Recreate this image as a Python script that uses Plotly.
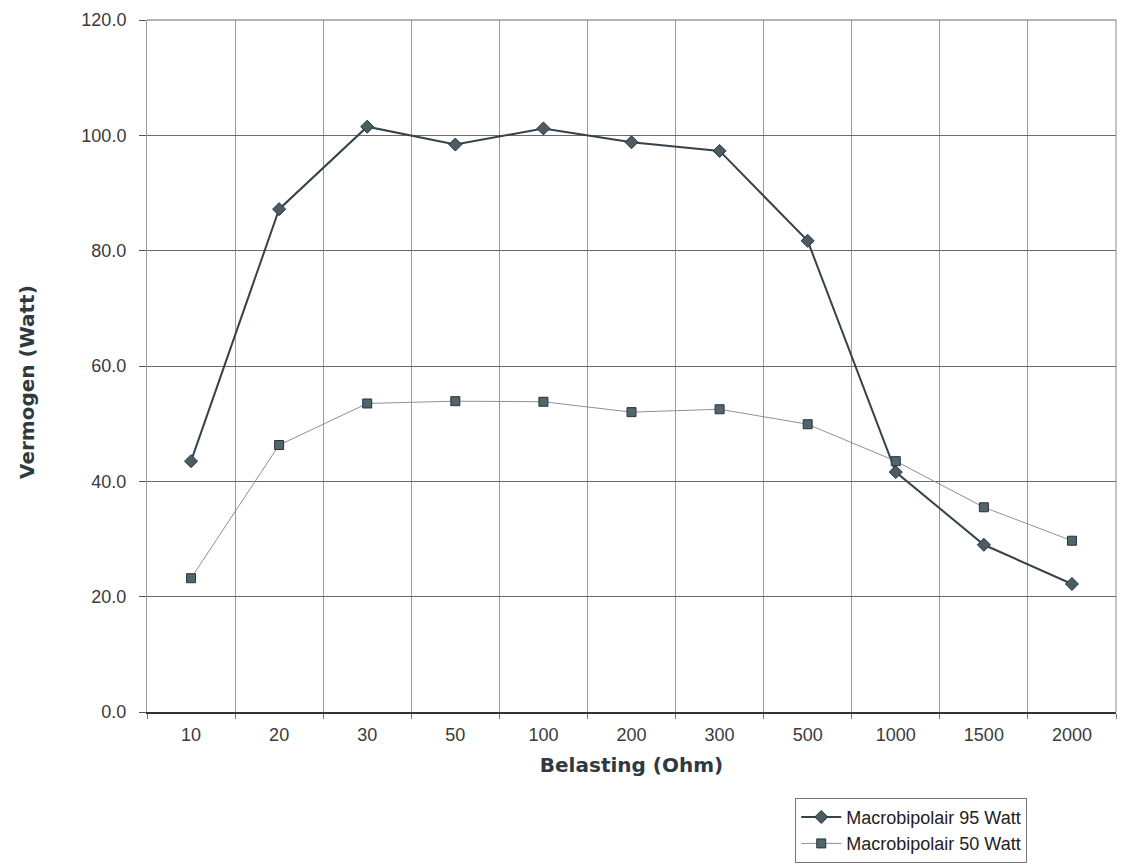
import plotly.graph_objects as go

categories = ["10", "20", "30", "50", "100", "200", "300", "500", "1000", "1500", "2000"]
watt95 = [43.5, 87.2, 101.5, 98.4, 101.2, 98.8, 97.3, 81.7, 41.6, 29.0, 22.2]
watt50 = [23.2, 46.3, 53.5, 53.9, 53.8, 52.0, 52.5, 49.9, 43.5, 35.5, 29.7]
yticks = [0, 20, 40, 60, 80, 100, 120]

fig = go.Figure()
fig.add_trace(go.Scatter(
    x=categories, y=watt95, mode="lines+markers", name="Macrobipolair 95 Watt",
    line=dict(color="#36434a", width=2),
    marker=dict(symbol="diamond", size=10, color="#4a5c64", line=dict(color="#2a3438", width=1)),
))
fig.add_trace(go.Scatter(
    x=categories, y=watt50, mode="lines+markers", name="Macrobipolair 50 Watt",
    line=dict(color="#8a9296", width=1),
    marker=dict(symbol="square", size=9, color="#52656c", line=dict(color="#2a3438", width=1)),
))

axis_font = dict(family="Liberation Sans, Arial, sans-serif", size=18, color="#3a3a3a")
title_font = dict(family="DejaVu Sans, sans-serif", size=20, color="#2f3a40")

fig.update_layout(
    width=1128, height=866,
    margin=dict(l=147, r=12, t=20, b=154, autoexpand=False),
    paper_bgcolor="white", plot_bgcolor="white",
    showlegend=True,
    legend=dict(
        x=0.669, y=-0.124, xanchor="left", yanchor="top",
        bordercolor="#777777", borderwidth=1, bgcolor="white",
        font=dict(family="Liberation Sans, Arial, sans-serif", size=18, color="#222222"),
        itemwidth=40, tracegroupgap=0,
    ),
    xaxis=dict(
        type="category", range=[-0.5, 10.5], tickson="boundaries",
        showgrid=True, gridcolor="#9a9a9a", gridwidth=1,
        ticks="outside", ticklen=5, tickcolor="#777777",
        showline=True, linecolor="#333333", linewidth=1.5,
        tickfont=axis_font, ticklabelstandoff=6,
        automargin=False,
        title=dict(text="<b>Belasting (Ohm)</b>", font=title_font, standoff=14),
    ),
    yaxis=dict(
        range=[0, 120], tickvals=yticks, tickformat=".1f",
        showgrid=True, gridcolor="#6a6a6a", gridwidth=1,
        ticks="outside", ticklen=7, tickcolor="#555555",
        showline=True, linecolor="#9a9a9a", linewidth=1,
        zeroline=False,
        tickfont=axis_font, ticklabelstandoff=9,
        automargin=False,
    ),
    annotations=[dict(
        text="<b>Vermogen (Watt)</b>", textangle=-90, showarrow=False,
        xref="paper", yref="paper", x=-0.1238, y=0.477,
        xanchor="center", yanchor="middle", font=title_font,
    )],
)
fig.add_shape(type="line", xref="paper", yref="paper", x0=1, x1=1, y0=0, y1=1,
              line=dict(color="#888888", width=1))
fig.add_shape(type="line", xref="paper", yref="paper", x0=0, x1=1, y0=1, y1=1,
              line=dict(color="#666666", width=1))

fig.write_html("out.html")
